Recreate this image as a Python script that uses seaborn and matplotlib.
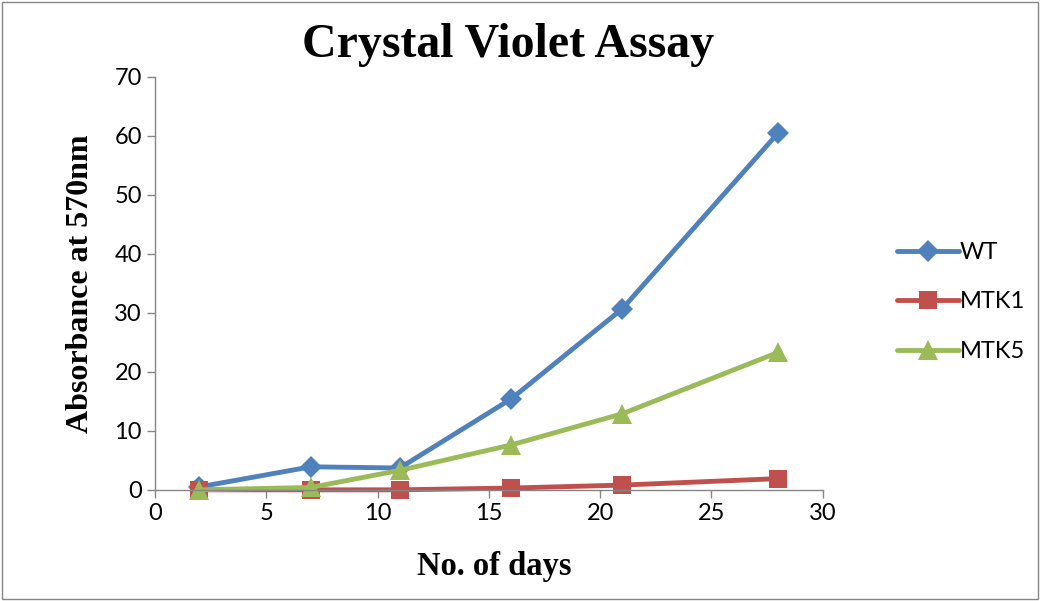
import matplotlib
matplotlib.use("Agg")
import matplotlib.pyplot as plt
import seaborn as sns
import pandas as pd

days = [2, 7, 11, 16, 21, 28]
wt = [0.5, 3.9, 3.7, 15.4, 30.7, 60.5]
mtk1 = [0.0, 0.0, 0.0, 0.3, 0.8, 1.9]
mtk5 = [0.0, 0.4, 3.3, 7.6, 12.9, 23.3]
series_names = ["WT", "MTK1", "MTK5"]

sns.set_style("white")
plt.rcParams['font.family'] = ['Lato', 'DejaVu Sans']

df = pd.DataFrame({"day": days * 3,
                   "val": wt + mtk1 + mtk5,
                   "series": [s for s in series_names for _ in days]})

fig = plt.figure(figsize=(10.4, 6.01), dpi=100)
ax = fig.add_axes([0.149, 0.185, 0.642, 0.687])
colors = {"WT": "#4F81BD", "MTK1": "#C0504D", "MTK5": "#9BBB59"}
markers = {"WT": "D", "MTK1": "s", "MTK5": "^"}
sizes = {"WT": 11, "MTK1": 13, "MTK5": 14}
for s in series_names:
    sub = df[df.series == s]
    sns.lineplot(data=sub, x="day", y="val", ax=ax, color=colors[s], marker=markers[s],
                 markersize=sizes[s], markeredgewidth=0, linewidth=3.5, label=s,
                 clip_on=False)

ax.set_xlim(0, 30)
ax.set_ylim(0, 70)
ax.set_xticks(range(0, 31, 5))
ax.set_yticks(range(0, 71, 10))
for sp in ["top", "right"]:
    ax.spines[sp].set_visible(False)
for sp in ["left", "bottom"]:
    ax.spines[sp].set_color("#868686")
    ax.spines[sp].set_linewidth(1)
ax.tick_params(axis="both", direction="out", length=6, width=1, color="#868686",
               labelsize=17, bottom=True, left=True, labelcolor="black")
ax.set_xlabel("No. of days", fontsize=23.5, fontweight="bold", family="Liberation Serif",
              color="black")
ax.xaxis.set_label_coords(0.508, -0.148)
ax.set_ylabel("Absorbance at 570nm", fontsize=23, fontweight="bold", family="Liberation Serif",
              labelpad=14, color="black")
fig.text(0.489, 0.925, "Crystal Violet Assay", ha="center", va="center",
         fontsize=34.5, fontweight="bold", family="Liberation Serif", color="black")

leg = ax.legend(loc="center left", bbox_to_anchor=(1.08, 0.455), frameon=False,
                fontsize=17, handlelength=2.6, labelspacing=1.2, handletextpad=0.05)
for t in leg.get_texts():
    t.set_color("black")

fig.patches.append(plt.Rectangle((0.002, 0.003), 0.996, 0.994, transform=fig.transFigure,
                                 fill=False, edgecolor="#868686", linewidth=1))
fig.savefig("out.png", dpi=100)
